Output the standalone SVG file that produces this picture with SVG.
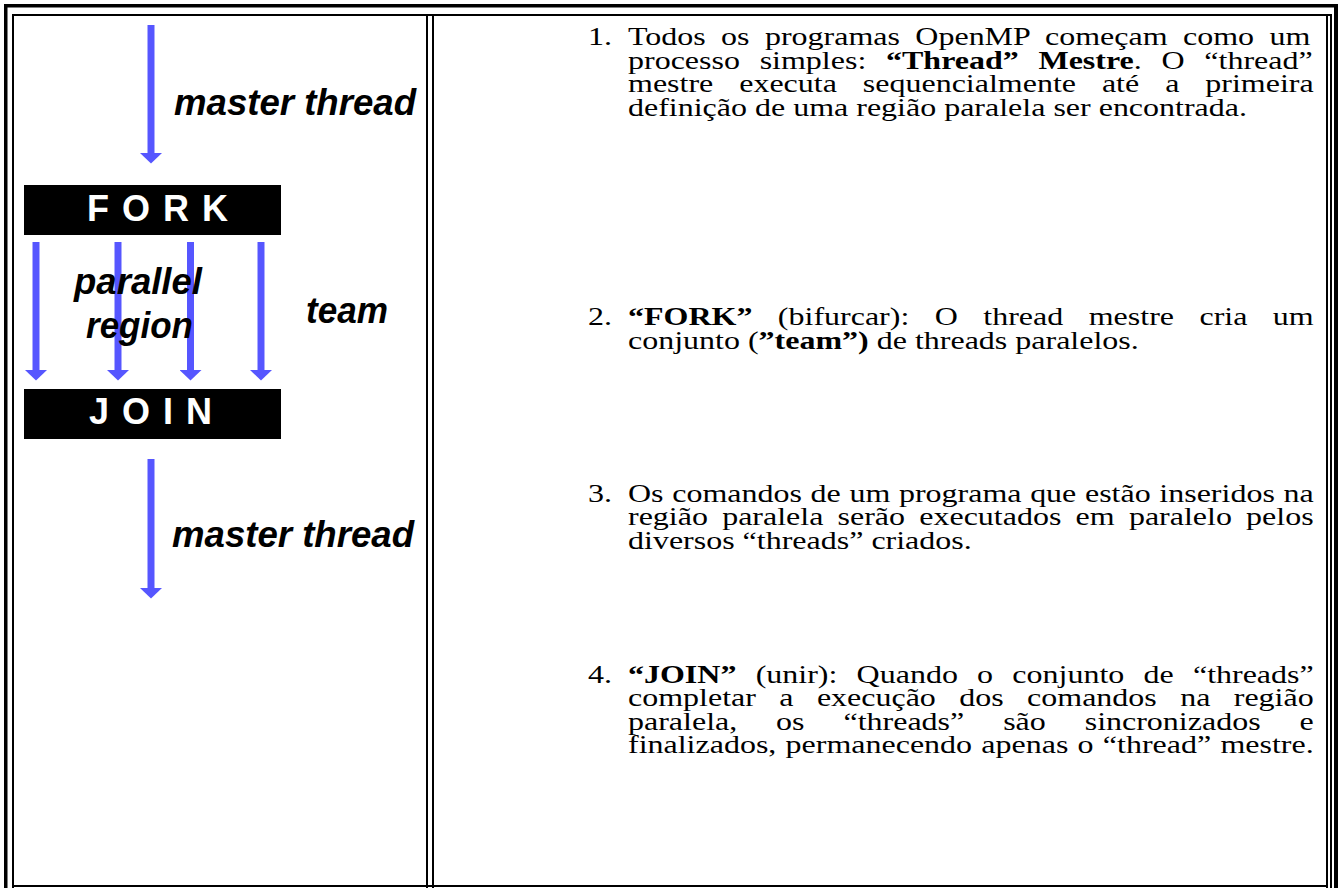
<svg xmlns="http://www.w3.org/2000/svg" width="1342" height="888" viewBox="0 0 1342 888">
  <style>
    .rule{fill:#000}
    .thread{stroke:#5656ff;stroke-width:7;fill:none}
    .bar{fill:#000}
    .bar-label{font-family:"Liberation Sans",Arial,sans-serif;font-weight:bold;font-size:36px;letter-spacing:13px;fill:#fff}
    .tag{font-family:"Liberation Sans",Arial,sans-serif;font-weight:bold;font-style:italic;font-size:36px;fill:#000}
    .body{font-family:"Liberation Serif","Times New Roman",serif;font-size:25px;fill:#000}
    .b{font-weight:bold}
  </style>
  <defs>
    <marker id="head" markerUnits="userSpaceOnUse" viewBox="0 0 12 22" markerWidth="12" markerHeight="22" refX="0" refY="11" orient="auto">
      <path d="M0,0 L10.5,11 L0,22 Z" fill="#5656ff"/>
    </marker>
  </defs>

  <!-- table frame: thick outer rule, thin inner rules, two cells -->
  <g id="frame" class="rule">
    <rect x="4" y="4" width="1334" height="3.5"/>
    <rect x="4" y="4" width="3.5" height="884"/>
    <rect x="1334" y="4" width="4" height="884"/>
    <rect x="12" y="14" width="1320" height="2"/>
    <rect x="12" y="14" width="2" height="874"/>
    <rect x="426" y="14" width="2" height="874"/>
    <rect x="432" y="14" width="2" height="874"/>
    <rect x="1326" y="14" width="2" height="874"/>
    <rect x="1330" y="14" width="2" height="874"/>
    <rect x="12" y="885" width="1316" height="2"/>
  </g>

  <!-- thread arrows -->
  <g id="connectors">
    <line class="thread" x1="151" y1="25" x2="151" y2="153" marker-end="url(#head)"/>
    <line class="thread" x1="36" y1="242" x2="36" y2="370" marker-end="url(#head)"/>
    <line class="thread" x1="118" y1="242" x2="118" y2="370" marker-end="url(#head)"/>
    <line class="thread" x1="190.5" y1="242" x2="190.5" y2="370" marker-end="url(#head)"/>
    <line class="thread" x1="261" y1="242" x2="261" y2="370" marker-end="url(#head)"/>
    <line class="thread" x1="151" y1="459" x2="151" y2="588" marker-end="url(#head)"/>
  </g>

  <g id="master-top">
    <text class="tag" x="174" y="115" textLength="242" lengthAdjust="spacingAndGlyphs">master thread</text>
  </g>

  <g id="fork">
    <rect class="bar" x="24" y="185" width="257" height="50"/>
    <text class="bar-label" x="87" y="221">FORK</text>
  </g>

  <g id="parallel-region">
    <text class="tag" x="74" y="294" textLength="128" lengthAdjust="spacingAndGlyphs">parallel</text>
    <text class="tag" x="86" y="338" textLength="107" lengthAdjust="spacingAndGlyphs">region</text>
  </g>

  <g id="team">
    <text class="tag" x="306" y="323" textLength="82" lengthAdjust="spacingAndGlyphs">team</text>
  </g>

  <g id="join">
    <rect class="bar" x="24" y="389" width="257" height="50"/>
    <text class="bar-label" x="89" y="424">JOIN</text>
  </g>

  <g id="master-bottom">
    <text class="tag" x="172" y="547" textLength="242" lengthAdjust="spacingAndGlyphs">master thread</text>
  </g>

  <!-- numbered explanation, justified lines use word spacing -->
  <g id="steps" transform="translate(628 0) scale(1.28 1)">
    <g id="step-1">
      <text class="body" x="-31.25" y="45.5">1.</text>
      <text class="body" x="0" y="45.5" style="word-spacing:5.77px">Todos os programas OpenMP começam como um</text>
      <text class="body" x="0" y="69" style="word-spacing:9.16px">processo simples: <tspan class="b">“Thread” Mestre</tspan>. O “thread”</text>
      <text class="body" x="0" y="92.5" style="word-spacing:14.02px">mestre executa sequencialmente até a primeira</text>
      <text class="body" x="0" y="116">definição de uma região paralela ser encontrada.</text>
    </g>
    <g id="step-2">
      <text class="body" x="-31.25" y="325.5">2.</text>
      <text class="body" x="0" y="325.5" style="word-spacing:13.65px"><tspan class="b">“FORK”</tspan> (bifurcar): O thread mestre cria um</text>
      <text class="body" x="0" y="349">conjunto (<tspan class="b">”team”)</tspan> de threads paralelos.</text>
    </g>
    <g id="step-3">
      <text class="body" x="-31.25" y="502">3.</text>
      <text class="body" x="0" y="502" style="word-spacing:0.51px">Os comandos de um programa que estão inseridos na</text>
      <text class="body" x="0" y="525.5" style="word-spacing:4.86px">região paralela serão executados em paralelo pelos</text>
      <text class="body" x="0" y="549">diversos “threads” criados.</text>
    </g>
    <g id="step-4">
      <text class="body" x="-31.25" y="683">4.</text>
      <text class="body" x="0" y="683" style="word-spacing:8.78px"><tspan class="b">“JOIN”</tspan> (unir): Quando o conjunto de “threads”</text>
      <text class="body" x="0" y="706.5" style="word-spacing:12.03px">completar a execução dos comandos na região</text>
      <text class="body" x="0" y="730" style="word-spacing:24.15px">paralela, os “threads” são sincronizados e</text>
      <text class="body" x="0" y="753.5" style="word-spacing:0.98px">finalizados, permanecendo apenas o “thread” mestre.</text>
    </g>
  </g>
</svg>
